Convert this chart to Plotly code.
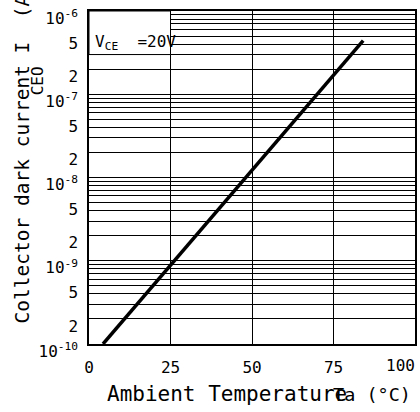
import math
import plotly.graph_objects as go

# ---- data ----
temps = [4.3, 25, 50, 75, 84.1]                      # Ambient temperature Ta (°C)
iceo = [1.0e-10, 8.8e-10, 1.22e-8, 1.69e-7, 4.4e-7]  # Collector dark current (A)

x_tickvals = [0, 25, 50, 75]
x_ticktext = ["0", "25", "50", "75"]
x_last_tick = 100
x_last_text = "100"

y_tickvals = [1e-10, 2e-10, 5e-10, 1e-9, 2e-9, 5e-9, 1e-8, 2e-8, 5e-8,
              1e-7, 2e-7, 5e-7, 1e-6]
y_ticktext = ["10<sup>-10</sup>", "2", "5", "10<sup>-9</sup>", "2", "5",
              "10<sup>-8</sup>", "2", "5", "10<sup>-7</sup>", "2", "5",
              "10<sup>-6</sup>"]

FONT = "DejaVu Sans Mono, Liberation Mono, monospace"

W, H = 420, 412
L, R, T, B = 89, 3, 11, 68
PW, PH = W - L - R, H - T - B


def px(xpix):
    return (xpix - L) / PW


def py(ypix):
    return (H - B - ypix) / PH


fig = go.Figure()
fig.add_trace(go.Scatter(x=temps, y=iceo, mode="lines",
                         line=dict(color="black", width=3.5),
                         showlegend=False, hoverinfo="skip"))

fig.update_layout(
    width=W, height=H,
    margin=dict(l=L, r=R, t=T, b=B, pad=0),
    paper_bgcolor="white", plot_bgcolor="white",
    font=dict(family=FONT, color="black"),
    xaxis=dict(range=[0, 100], tickvals=x_tickvals, ticktext=x_ticktext,
               showgrid=True, gridcolor="black", gridwidth=1,
               showline=True, mirror=True, linecolor="black", linewidth=1.5,
               ticks="", zeroline=False, ticklabelstandoff=8,
               tickfont=dict(size=16, family=FONT, color="black")),
    yaxis=dict(type="log", range=[-10.0005, -5.9995], tickvals=y_tickvals, ticktext=y_ticktext,
               showgrid=True, gridcolor="black", gridwidth=1,
               minor=dict(dtick="D1", showgrid=True, gridcolor="black", gridwidth=1, ticks=""),
               showline=True, mirror=True, linecolor="black", linewidth=1.5,
               ticks="", zeroline=False, ticklabelstandoff=6, ticklabelshift=7,
               ticklabeloverflow="allow",
               tickfont=dict(size=16, family=FONT, color="black")),
)

# V_CE box (white panel over grid, upper-left)
box_bottom = (math.log10(3e-7) + 10.0005) / 4.001
fig.add_shape(type="rect", xref="x", yref="paper", x0=0, x1=25, y0=box_bottom, y1=1,
              fillcolor="white", line=dict(color="black", width=1), layer="above")

fig.add_annotation(xref="paper", yref="paper", x=px(93), y=py(42),
                   xanchor="left", yanchor="middle", showarrow=False,
                   text="V<sub>CE</sub>  =20V", font=dict(size=16, family=FONT, color="black"))

# last x tick label (kept inside the figure)
fig.add_annotation(xref="x", yref="paper", x=x_last_tick, y=py(365),
                   xanchor="right", yanchor="middle", xshift=2, showarrow=False,
                   text=x_last_text, font=dict(size=16, family=FONT, color="black"))

# x-axis title (overlapping like the original)
fig.add_annotation(xref="paper", yref="paper", x=px(105), y=py(394),
                   xanchor="left", yanchor="middle", showarrow=False,
                   text="Ambient Temperature", font=dict(size=21, family=FONT, color="black"))
fig.add_annotation(xref="paper", yref="paper", x=px(332), y=py(394),
                   xanchor="left", yanchor="middle", showarrow=False,
                   text="Ta (°C)", font=dict(size=18.5, family=FONT, color="black"))

# y-axis title
fig.add_annotation(xref="paper", yref="paper", x=px(22), y=py(325),
                   xanchor="center", yanchor="bottom", showarrow=False, textangle=-90,
                   text="Collector dark current I  (A)",
                   font=dict(size=19.5, family=FONT, color="black"))
fig.add_annotation(xref="paper", yref="paper", x=px(37), y=py(81),
                   xanchor="center", yanchor="middle", showarrow=False, textangle=-90,
                   text="CEO", font=dict(size=16, family=FONT, color="black"))

fig.write_html("out.html")
